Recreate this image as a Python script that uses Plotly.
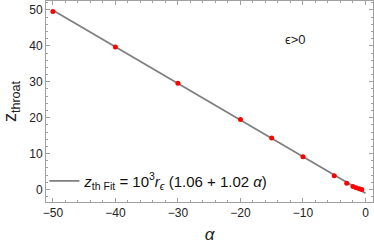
import plotly.graph_objects as go

alpha_pts = [-50, -40, -30, -20, -15, -10, -5, -3, -2, -1.5, -1, -0.6]
z_pts = [49.6, 39.7, 29.6, 19.5, 14.3, 9.1, 3.8, 1.7, 0.8, 0.45, 0.2, 0.0]

fit_alpha = [-50, 0]
fit_a = 1.06
fit_b = 1.02
fit_z = [-(fit_a + fit_b * a) for a in fit_alpha]

fig = go.Figure()
fig.add_trace(go.Scatter(
    x=fit_alpha, y=fit_z, mode="lines",
    line=dict(color="#7f7f7f", width=1.8),
    name="<i>z</i><sub>th Fit</sub> = 10<sup>3</sup><i>r</i><sub><i>ϵ</i></sub> (1.06 + 1.02 <i>α</i>)",
    showlegend=True,
))
fig.add_trace(go.Scatter(
    x=alpha_pts, y=z_pts, mode="markers",
    marker=dict(color="#ff0000", size=5),
    showlegend=False,
))

axis_common = dict(
    showline=True, linecolor="#a0a0a0", linewidth=1, mirror="allticks",
    ticks="inside", ticklen=4, tickcolor="#a0a0a0", tickwidth=1,
    showgrid=False, zeroline=False, automargin=False,
    tickfont=dict(family="Liberation Sans", size=12, color="#222222"),
)

fig.update_xaxes(
    range=[-51.1, 1.2], dtick=10, tick0=0,
    minor=dict(ticks="inside", dtick=2, ticklen=2, tickcolor="#a0a0a0"),
    title=dict(text="<i>α</i>", font=dict(family="Liberation Sans", size=17, color="#222222"), standoff=8),
    **axis_common,
)
fig.update_yaxes(
    range=[-3.5, 52.5], dtick=10, tick0=0,
    minor=dict(ticks="inside", dtick=2, ticklen=2, tickcolor="#a0a0a0"),
    title=dict(text="z<sub>throat</sub>", font=dict(family="Liberation Sans", size=18, color="#222222"), standoff=8),
    **axis_common,
)

fig.add_annotation(
    x=0.80, y=0.855, xref="paper", yref="paper",
    text="ϵ>0", showarrow=False,
    font=dict(family="Liberation Sans", size=13, color="#222222"),
)

fig.update_layout(
    width=374, height=245,
    margin=dict(l=46, r=1, t=1, b=43),
    paper_bgcolor="white", plot_bgcolor="white",
    legend=dict(
        x=-0.005, y=0.104, xanchor="left", yanchor="middle",
        bgcolor="rgba(0,0,0,0)",
        font=dict(family="Liberation Sans", size=15, color="#111111"),
    ),
)

fig.write_html("out.html", config={"displayModeBar": False},
               post_script="document.body.style.margin='0';")
